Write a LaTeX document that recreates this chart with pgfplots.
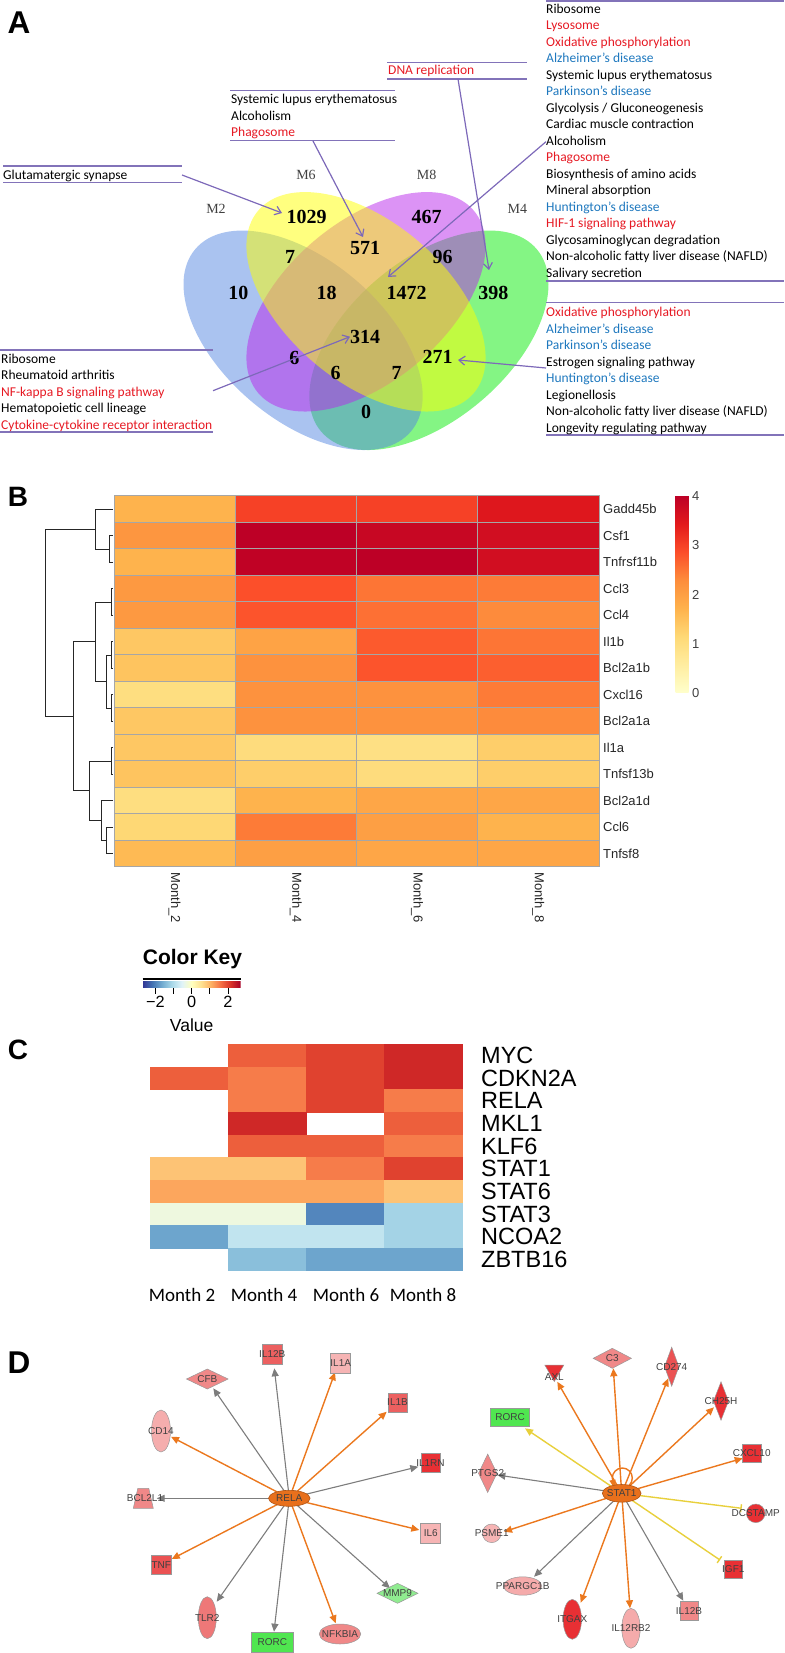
\documentclass[border=0pt]{standalone}
\usepackage{fontspec}
\setmainfont{Carlito}
\newfontfamily\arial{Liberation Sans}
\newfontfamily\tnr{Liberation Serif}
\usepackage{pgfplots}
\pgfplotsset{compat=1.18}
\usepackage{pgfplotstable}
\usetikzlibrary{arrows.meta,calc}

% colours
\definecolor{kred}{RGB}{230,25,35}
\definecolor{kblue}{RGB}{30,120,190}
\definecolor{sepc}{RGB}{130,115,185}
\definecolor{arrc}{RGB}{125,105,185}
\definecolor{vblue}{RGB}{85,135,225}
\definecolor{vyellow}{RGB}{255,255,0}
\definecolor{vpurple}{RGB}{185,40,235}
\definecolor{vgreen}{RGB}{10,235,10}
\definecolor{hub}{RGB}{232,112,28}
\definecolor{redS}{RGB}{232,48,52}
\definecolor{redM}{RGB}{236,96,96}
\definecolor{pinkM}{RGB}{240,136,136}
\definecolor{pinkL}{RGB}{246,180,180}
\definecolor{greenS}{RGB}{80,230,80}
\definecolor{greenL}{RGB}{144,236,144}
\definecolor{eorange}{RGB}{235,120,30}
\definecolor{egray}{RGB}{125,125,125}
\definecolor{eyellow}{RGB}{232,208,60}

\pgfdeclareplotmark{cellB}{\pgfpathrectangle{\pgfqpoint{-60.625pt}{-13.25pt}}{\pgfqpoint{121.25pt}{26.5pt}}\pgfusepathqfillstroke}
\pgfdeclareplotmark{cellC}{\pgfpathrectangle{\pgfqpoint{-39pt}{-11.32pt}}{\pgfqpoint{78pt}{22.64pt}}\pgfusepathqfillstroke}
\pgfdeclareplotmark{trap}{%
  \pgfpathmoveto{\pgfqpoint{-\pgfplotmarksize}{-\pgfplotmarksize}}%
  \pgfpathlineto{\pgfqpoint{\pgfplotmarksize}{-\pgfplotmarksize}}%
  \pgfpathlineto{\pgfqpoint{0.55\pgfplotmarksize}{\pgfplotmarksize}}%
  \pgfpathlineto{\pgfqpoint{-0.55\pgfplotmarksize}{\pgfplotmarksize}}%
  \pgfpathclose\pgfusepathqfillstroke}

\tikzset{
  eo/.style={draw=eorange, line width=1.4pt, -{Triangle[length=8pt,width=7pt]}},
  eg/.style={draw=egray, line width=1.1pt, -{Triangle[length=8pt,width=7pt]}},
  ey/.style={draw=eyellow, line width=1.4pt, -{Triangle[length=8pt,width=7pt]}},
  eyt/.style={draw=eyellow, line width=1.4pt, -{Bar[width=8pt]}},
  nd/.style={draw=black!40, line width=0.5pt},
  pa/.style={draw=arrc, line width=1.2pt, -{Straight Barb[length=6pt,width=9pt]}},
  sep/.style={draw=sepc, line width=1.2pt},
  dendro/.style={draw=black!85, line width=0.9pt},
}
\pgfplotsset{canvas/.style={
  at={(0pt,0pt)}, anchor=south west,
  width=784pt, height=1653pt, scale only axis,
  xmin=0, xmax=784, ymin=0, ymax=1653, y dir=reverse,
  hide axis, clip=false}}

\newcommand{\lfont}{\fontsize{13.5}{16.5}\selectfont}
\newcommand{\rd}[1]{\textcolor{kred}{#1}}
\newcommand{\bl}[1]{\textcolor{kblue}{#1}}
\newcommand{\vn}[3]{\node[font=\tnr\bfseries\fontsize{20}{24}\selectfont] at (axis cs:#1,#2) {#3};}
\newcommand{\vm}[3]{\node[font=\tnr\fontsize{14}{16}\selectfont, text=black!75] at (axis cs:#1,#2) {#3};}
\newcommand{\edge}[5]{\addplot[#1] coordinates {(#2,#3) (#4,#5)};}
\newcommand{\nm}[3]{\addplot[only marks, #3] coordinates {(#1,#2)};}
\newcommand{\nl}[3]{\node[font=\arial\fontsize{10}{12}\selectfont, text=black!75, inner sep=0pt] at (axis cs:#1,#2) {#3};}
\newcommand{\gb}[2]{\node[anchor=west, inner sep=0pt, font=\arial\fontsize{13}{15}\selectfont, text=black!85] at (axis cs:603,#1) {#2};}
\newcommand{\gc}[2]{\node[anchor=west, inner sep=0pt, font=\arial\fontsize{23.5}{26}\selectfont] at (axis cs:481,#1) {#2};}

% panel B: log fold change, x = month index, y = gene row
\pgfplotstableread{
x y v
0 0 1.7
1 0 3.0
2 0 3.0
3 0 3.5
0 1 2.15
1 1 4.0
2 1 3.85
3 1 3.7
0 2 1.7
1 2 3.95
2 2 4.0
3 2 3.7
0 3 2.1
1 3 2.85
2 3 2.5
3 3 2.45
0 4 2.1
1 4 2.8
2 4 2.55
3 4 2.3
0 5 1.4
1 5 1.95
2 5 2.75
3 5 2.5
0 6 1.45
1 6 2.2
2 6 2.8
3 6 2.7
0 7 1.0
1 7 2.2
2 7 2.2
3 7 2.45
0 8 1.4
1 8 2.2
2 8 2.2
3 8 2.3
0 9 1.4
1 9 1.05
2 9 0.95
3 9 1.3
0 10 1.45
1 10 1.3
2 10 1.05
3 10 1.3
0 11 1.0
1 11 1.7
2 11 1.9
3 11 1.9
0 12 1.15
1 12 2.45
2 12 2.0
3 12 1.7
0 13 1.6
1 13 2.0
2 13 1.9
3 13 1.9
}\heatB

% panel C: z-scores, missing cells omitted
\pgfplotstableread{
x y v
1 0 1.75
2 0 2.0
3 0 2.25
0 1 1.75
1 1 1.5
2 1 2.0
3 1 2.25
1 2 1.5
2 2 2.0
3 2 1.5
1 3 2.25
3 3 1.75
1 4 1.75
2 4 1.75
3 4 1.5
0 5 0.85
1 5 0.85
2 5 1.5
3 5 2.0
0 6 1.15
1 6 1.15
2 6 1.15
3 6 0.85
0 7 -0.3
1 7 -0.3
2 7 -2.0
3 7 -1.15
0 8 -1.7
1 8 -0.85
2 8 -0.85
3 8 -1.15
1 9 -1.4
2 9 -1.7
3 9 -1.7
}\heatC

\begin{document}
\begin{tikzpicture}

%================ canvas: Venn, lists, dendrogram, networks
\begin{axis}[canvas]
% --- A: Venn ellipses
\fill[vgreen, fill opacity=0.5, rotate around={40.2:(axis cs:428.9,340.3)}] (axis cs:428.9,340.3) ellipse [x radius=141.2pt, y radius=80pt];
\fill[vblue, fill opacity=0.5, rotate around={-40.2:(axis cs:303.1,340.3)}] (axis cs:303.1,340.3) ellipse [x radius=141.2pt, y radius=80pt];
\fill[vpurple, fill opacity=0.5, rotate around={40.2:(axis cs:366,301.8)}] (axis cs:366,301.8) ellipse [x radius=141.2pt, y radius=80pt];
\fill[vyellow, fill opacity=0.5, rotate around={-40.2:(axis cs:366,301.8)}] (axis cs:366,301.8) ellipse [x radius=141.2pt, y radius=80pt];

\vm{216}{209.3}{M2}
\vm{306}{175}{M6}
\vm{426.7}{175}{M8}
\vm{517.3}{209.3}{M4}

\vn{306.7}{216.7}{1029}
\vn{426.7}{216.7}{467}
\vn{290}{256.7}{7}
\vn{365}{248.3}{571}
\vn{442.7}{257.3}{96}
\vn{238.3}{293.3}{10}
\vn{326.7}{293.3}{18}
\vn{406.7}{293.3}{1472}
\vn{493.3}{293.3}{398}
\vn{365}{336.7}{314}
\vn{294.3}{358.3}{6}
\vn{437.7}{356.7}{271}
\vn{335.7}{373.3}{6}
\vn{396.7}{373.3}{7}
\vn{366}{411.7}{0}

% --- A: pathway lists
\addplot[sep] coordinates {(546,1) (784,1)};
\addplot[sep] coordinates {(546,281) (784,281)};
\node[anchor=base west, inner sep=0pt, font=\lfont] at (axis cs:546,13.5) {\begin{tabular}[t]{@{}l@{}}
Ribosome\\ \rd{Lysosome}\\ \rd{Oxidative phosphorylation}\\ \bl{Alzheimer's disease}\\
Systemic lupus erythematosus\\ \bl{Parkinson's disease}\\ Glycolysis / Gluconeogenesis\\
Cardiac muscle contraction\\ Alcoholism\\ \rd{Phagosome}\\ Biosynthesis of amino acids\\
Mineral absorption\\ \bl{Huntington's disease}\\ \rd{HIF-1 signaling pathway}\\
Glycosaminoglycan degradation\\ Non-alcoholic fatty liver disease (NAFLD)\\ Salivary secretion
\end{tabular}};

\addplot[sep] coordinates {(546,302.7) (784,302.7)};
\addplot[sep] coordinates {(546,435) (784,435)};
\node[anchor=base west, inner sep=0pt, font=\lfont] at (axis cs:546,316.5) {\begin{tabular}[t]{@{}l@{}}
\rd{Oxidative phosphorylation}\\ \bl{Alzheimer's disease}\\ \bl{Parkinson's disease}\\
Estrogen signaling pathway\\ \bl{Huntington's disease}\\ Legionellosis\\
Non-alcoholic fatty liver disease (NAFLD)\\ Longevity regulating pathway
\end{tabular}};

\addplot[sep] coordinates {(387,62.3) (527,62.3)};
\addplot[sep] coordinates {(387,79) (527,79)};
\node[anchor=base west, inner sep=0pt, font=\lfont, text=kred] at (axis cs:388,75) {DNA replication};

\addplot[sep] coordinates {(230,90.7) (395,90.7)};
\addplot[sep] coordinates {(230,140.7) (395,140.7)};
\node[anchor=base west, inner sep=0pt, font=\lfont] at (axis cs:231,104) {\begin{tabular}[t]{@{}l@{}}
Systemic lupus erythematosus\\ Alcoholism\\ \rd{Phagosome}
\end{tabular}};

\addplot[sep] coordinates {(3,166) (182,166)};
\addplot[sep] coordinates {(3,182.7) (182,182.7)};
\node[anchor=base west, inner sep=0pt, font=\lfont] at (axis cs:3,180) {Glutamatergic synapse};

\addplot[sep] coordinates {(0,350) (213,350)};
\addplot[sep] coordinates {(0,432) (213,432)};
\node[anchor=base west, inner sep=0pt, font=\lfont] at (axis cs:1,363) {\begin{tabular}[t]{@{}l@{}}
Ribosome\\ Rheumatoid arthritis\\ \rd{NF-kappa B signaling pathway}\\
Hematopoietic cell lineage\\ \rd{Cytokine-cytokine receptor interaction}
\end{tabular}};

% --- A: arrows
\addplot[pa] coordinates {(182,175) (282,213)};
\addplot[pa] coordinates {(313,141) (363,237)};
\addplot[pa] coordinates {(458,79) (489,270)};
\addplot[pa] coordinates {(546,141.7) (388,277)};
\addplot[pa] coordinates {(546,368) (458,360)};
\addplot[pa] coordinates {(213,390.7) (350,336.7)};

% --- panel letters
\node[font=\arial\bfseries\fontsize{31.5}{36}\selectfont] at (axis cs:19,23) {A};
\node[font=\arial\bfseries\fontsize{28}{32}\selectfont] at (axis cs:18,497) {B};
\node[font=\arial\bfseries\fontsize{28}{32}\selectfont] at (axis cs:18,1050) {C};
\node[font=\arial\bfseries\fontsize{31.5}{36}\selectfont] at (axis cs:19,1363) {D};

% --- B: dendrogram
\addplot[dendro] coordinates {(113,535.8) (109,535.8) (109,562.3) (113,562.3)};
\addplot[dendro] coordinates {(113,509.3) (95,509.3) (95,549) (109,549)};
\addplot[dendro] coordinates {(113,588.8) (111,588.8) (111,615.3) (113,615.3)};
\addplot[dendro] coordinates {(113,641.8) (111,641.8) (111,668.3) (113,668.3)};
\addplot[dendro] coordinates {(113,694.8) (111,694.8) (111,721.3) (113,721.3)};
\addplot[dendro] coordinates {(111,655) (106,655) (106,708) (111,708)};
\addplot[dendro] coordinates {(111,602) (95,602) (95,681.5) (106,681.5)};
\addplot[dendro] coordinates {(113,747.8) (111,747.8) (111,774.3) (113,774.3)};
\addplot[dendro] coordinates {(113,827.3) (106,827.3) (106,853.8) (113,853.8)};
\addplot[dendro] coordinates {(113,800.8) (101,800.8) (101,840.5) (106,840.5)};
\addplot[dendro] coordinates {(111,761) (89,761) (89,820.7) (101,820.7)};
\addplot[dendro] coordinates {(95,641.8) (73,641.8) (73,790.8) (89,790.8)};
\addplot[dendro] coordinates {(95,529.2) (45,529.2) (45,716.3) (73,716.3)};

% --- B: labels
\gb{509.3}{Gadd45b}
\gb{535.8}{Csf1}
\gb{562.3}{Tnfrsf11b}
\gb{588.8}{Ccl3}
\gb{615.3}{Ccl4}
\gb{641.8}{Il1b}
\gb{668.3}{Bcl2a1b}
\gb{694.8}{Cxcl16}
\gb{721.3}{Bcl2a1a}
\gb{747.8}{Il1a}
\gb{774.3}{Tnfsf13b}
\gb{800.8}{Bcl2a1d}
\gb{827.3}{Ccl6}
\gb{853.8}{Tnfsf8}
\node[rotate=-90, anchor=west, inner sep=0pt, font=\arial\fontsize{13}{15}\selectfont, text=black!85] at (axis cs:174.6,872) {Month\_2};
\node[rotate=-90, anchor=west, inner sep=0pt, font=\arial\fontsize{13}{15}\selectfont, text=black!85] at (axis cs:295.9,872) {Month\_4};
\node[rotate=-90, anchor=west, inner sep=0pt, font=\arial\fontsize{13}{15}\selectfont, text=black!85] at (axis cs:417.1,872) {Month\_6};
\node[rotate=-90, anchor=west, inner sep=0pt, font=\arial\fontsize{13}{15}\selectfont, text=black!85] at (axis cs:538.4,872) {Month\_8};

% --- C: colour key texts and labels
\node[anchor=base west, inner sep=0pt, font=\arial\bfseries\fontsize{21}{24}\selectfont] at (axis cs:142.7,964) {Color Key};
\addplot[black, line width=1.3pt] coordinates {(142.7,979) (240.7,979)};
\node[anchor=base, inner sep=0pt, font=\arial\fontsize{16.3}{18}\selectfont] at (axis cs:155.4,1007.5) {−2};
\node[anchor=base, inner sep=0pt, font=\arial\fontsize{16.3}{18}\selectfont] at (axis cs:191.7,1007.5) {0};
\node[anchor=base, inner sep=0pt, font=\arial\fontsize{16.3}{18}\selectfont] at (axis cs:228,1007.5) {2};
\node[anchor=base, inner sep=0pt, font=\arial\fontsize{17.5}{20}\selectfont] at (axis cs:191.7,1031.7) {Value};
\gc{1055.6}{MYC}
\gc{1078.3}{CDKN2A}
\gc{1100.9}{RELA}
\gc{1123.5}{MKL1}
\gc{1146.2}{KLF6}
\gc{1168.8}{STAT1}
\gc{1191.5}{STAT6}
\gc{1214.1}{STAT3}
\gc{1236.7}{NCOA2}
\gc{1259.4}{ZBTB16}
\node[anchor=base, inner sep=0pt, font=\fontsize{19}{22}\selectfont] at (axis cs:182,1301) {Month 2};
\node[anchor=base, inner sep=0pt, font=\fontsize{19}{22}\selectfont] at (axis cs:264,1301) {Month 4};
\node[anchor=base, inner sep=0pt, font=\fontsize{19}{22}\selectfont] at (axis cs:346,1301) {Month 6};
\node[anchor=base, inner sep=0pt, font=\fontsize{19}{22}\selectfont] at (axis cs:423,1301) {Month 8};

% --- D: RELA network edges
\edge{eg}{289.3}{1498.3}{274.3}{1368.3}
\edge{eo}{289.3}{1498.3}{335}{1372.3}
\edge{eg}{289.3}{1498.3}{213.3}{1388.3}
\edge{eo}{289.3}{1498.3}{386.7}{1411.7}
\edge{eo}{289.3}{1498.3}{171}{1436.7}
\edge{eg}{289.3}{1498.3}{418.3}{1466.7}
\edge{eg}{289.3}{1498.3}{156.7}{1498.3}
\edge{eo}{289.3}{1498.3}{419.3}{1530}
\edge{eo}{289.3}{1498.3}{171.7}{1559}
\edge{eg}{289.3}{1498.3}{216.7}{1601.7}
\edge{eg}{289.3}{1498.3}{274}{1631.7}
\edge{eo}{289.3}{1498.3}{335.7}{1623.3}
\edge{eg}{289.3}{1498.3}{390}{1588.3}
% --- D: STAT1 network edges
\edge{eo}{621.7}{1493.3}{613.3}{1368.3}
\edge{eo}{621.7}{1493.3}{557.3}{1381.7}
\edge{eo}{621.7}{1493.3}{668.3}{1378.3}
\edge{eo}{621.7}{1493.3}{714}{1407.3}
\edge{ey}{621.7}{1493.3}{525}{1428.3}
\edge{eo}{621.7}{1493.3}{742.7}{1458.3}
\edge{eg}{621.7}{1493.3}{497.3}{1475}
\edge{eyt}{621.7}{1493.3}{741.7}{1508.3}
\edge{eo}{621.7}{1493.3}{504}{1531.7}
\edge{eyt}{621.7}{1493.3}{720}{1560}
\edge{eg}{621.7}{1493.3}{534}{1576.7}
\edge{eo}{621.7}{1493.3}{580.7}{1602.7}
\edge{eo}{621.7}{1493.3}{630}{1608.3}
\edge{eg}{621.7}{1493.3}{683.3}{1600.7}
\draw[eorange, line width=1.4pt] (axis cs:622.3,1478) circle (10pt);
\addplot[eorange, line width=1.4pt, -{Triangle[length=7pt,width=6pt]}] coordinates {(612.6,1480.5) (613.5,1487)};

% --- D: RELA network nodes
\nm{272.3}{1354.3}{mark=square*, mark size=9.7pt, mark options={nd, fill=redM}}
\nm{340.7}{1363.3}{mark=square*, mark size=10pt, mark options={nd, fill=pinkL}}
\nm{207.3}{1379}{mark=diamond*, mark size=10pt, mark options={nd, fill=pinkM, xscale=2.78}}
\nm{161}{1431}{mark=*, mark size=9.5pt, mark options={nd, fill=pinkL!85!pinkM, yscale=2.21}}
\nm{397.5}{1402.5}{mark=square*, mark size=9.7pt, mark options={nd, fill=redM}}
\nm{430.5}{1463}{mark=square*, mark size=9.7pt, mark options={nd, fill=redS}}
\nm{143.3}{1498.3}{mark=trap, mark size=10pt, mark options={nd, fill=pinkM}}
\nm{430.7}{1533}{mark=square*, mark size=10pt, mark options={nd, fill=pinkL}}
\nm{161.3}{1565}{mark=square*, mark size=9.7pt, mark options={nd, fill=redM!70!redS}}
\nm{397.5}{1593.3}{mark=diamond*, mark size=10pt, mark options={nd, fill=greenL, xscale=2.73}}
\nm{207.3}{1617.7}{mark=*, mark size=9pt, mark options={nd, fill=pinkM!60!redM, yscale=2.33}}
\nm{340}{1634}{mark=*, mark size=10pt, mark options={nd, fill=pinkM, xscale=2.08}}
\nm{272.3}{1642.3}{mark=square*, mark size=10pt, mark options={nd, fill=greenS, xscale=2.13}}
\nm{289.3}{1498.3}{mark=*, mark size=8pt, mark options={draw=hub!75!black, line width=0.6pt, fill=hub, xscale=2.6}}

% --- D: STAT1 network nodes
\nm{612.3}{1358.3}{mark=diamond*, mark size=10pt, mark options={nd, fill=pinkM, xscale=2.55}}
\nm{554.3}{1370.5}{mark=triangle*, mark size=11pt, mark options={nd, fill=redS, rotate=180}}
\nm{671.7}{1366.7}{mark=diamond*, mark size=19.5pt, mark options={nd, fill=redM!70!redS, xscale=0.49}}
\nm{721}{1401}{mark=diamond*, mark size=19.2pt, mark options={nd, fill=redS, xscale=0.52}}
\nm{510}{1417.3}{mark=square*, mark size=9.2pt, mark options={nd, fill=greenS, xscale=2.14}}
\nm{751.7}{1453.3}{mark=square*, mark size=9.2pt, mark options={nd, fill=redS}}
\nm{487.7}{1473.3}{mark=diamond*, mark size=19.2pt, mark options={nd, fill=pinkM, xscale=0.64}}
\nm{755.7}{1513.3}{mark=*, mark size=9.3pt, mark options={nd, fill=redS}}
\nm{491.7}{1533.3}{mark=*, mark size=9.3pt, mark options={nd, fill=pinkL}}
\nm{733.3}{1569.3}{mark=square*, mark size=9.2pt, mark options={nd, fill=redS}}
\nm{522.7}{1586}{mark=*, mark size=9.2pt, mark options={nd, fill=pinkL!80!pinkM, xscale=2.08}}
\nm{572.3}{1619.3}{mark=*, mark size=9.2pt, mark options={nd, fill=redS, yscale=2.17}}
\nm{631}{1628.3}{mark=*, mark size=9.2pt, mark options={nd, fill=pinkL!80!pinkM, yscale=2.17}}
\nm{689}{1610.7}{mark=square*, mark size=9.2pt, mark options={nd, fill=pinkM}}
\nm{621.7}{1493.3}{mark=*, mark size=8.8pt, mark options={draw=hub!75!black, line width=0.6pt, fill=hub, xscale=2.2}}
\end{axis}

%================ overlay canvas: network labels on top of the node marks
\begin{axis}[canvas]
\nl{272.3}{1354.3}{IL12B}
\nl{340.7}{1363.3}{IL1A}
\nl{207.3}{1379}{CFB}
\nl{161}{1431}{CD14}
\nl{397.5}{1402.5}{IL1B}
\nl{430.5}{1463}{IL1RN}
\nl{145}{1498.3}{BCL2L1}
\nl{430.7}{1533}{IL6}
\nl{161.3}{1565}{TNF}
\nl{397.5}{1593.3}{MMP9}
\nl{207.3}{1617.7}{TLR2}
\nl{340}{1634}{NFKBIA}
\nl{272.3}{1642.3}{RORC}
\nl{289.3}{1498.3}{RELA}
\nl{612.3}{1358.3}{C3}
\nl{554.3}{1376.7}{AXL}
\nl{671.7}{1367.3}{CD274}
\nl{721}{1401}{CH25H}
\nl{510}{1417.3}{RORC}
\nl{751.7}{1453.3}{CXCL10}
\nl{487.7}{1473.3}{PTGS2}
\nl{755.7}{1513.3}{DCSTAMP}
\nl{491.7}{1533.3}{PSME1}
\nl{733.3}{1569.3}{IGF1}
\nl{522.7}{1586}{PPARGC1B}
\nl{572.3}{1619.3}{ITGAX}
\nl{631}{1628.3}{IL12RB2}
\nl{689}{1610.7}{IL12B}
\nl{621.7}{1493.3}{STAT1}
\end{axis}

%================ B: heatmap with its colour bar
\begin{axis}[
  at={(114pt,1157pt)}, anchor=north west,
  width=485pt, height=371pt, scale only axis,
  xmin=-0.5, xmax=3.5, ymin=-0.5, ymax=13.5, y dir=reverse,
  xtick=\empty, ytick=\empty, axis line style={draw=none}, clip=false,
  colormap={ylorrd}{rgb255=(255,255,204) rgb255=(255,237,160) rgb255=(254,217,118) rgb255=(254,178,76) rgb255=(253,141,60) rgb255=(252,78,42) rgb255=(227,26,28) rgb255=(189,0,38)},
  point meta min=0, point meta max=4,
  colorbar,
  colorbar style={
    at={($(parent axis.north east)+(68pt,0pt)$)}, anchor=north west,
    width=13pt, height=197pt, scale only axis,
    ytick={0,1,2,3,4}, yticklabels={0,1,2,3,4}, xtick=\empty,
    axis line style={draw=none}, tick style={draw=none},
    yticklabel style={font=\arial\fontsize{13}{15}\selectfont, text=black!75},
  },
]
\addplot[scatter, only marks, mark=cellB, point meta=explicit,
  scatter/use mapped color={draw=black!35, fill=mapped color},
  mark options={line width=1pt}] table[x=x, y=y, meta=v] {\heatB};
\end{axis}

%================ C: heatmap with its colour key
\begin{axis}[
  at={(150pt,608.7pt)}, anchor=north west,
  width=312pt, height=226.4pt, scale only axis,
  xmin=-0.5, xmax=3.5, ymin=-0.5, ymax=9.5, y dir=reverse,
  xtick=\empty, ytick=\empty, axis line style={draw=none}, clip=false,
  colormap={rdylbu}{rgb255=(49,54,149) rgb255=(69,117,180) rgb255=(116,173,209) rgb255=(171,217,233) rgb255=(224,243,248) rgb255=(255,255,191) rgb255=(254,224,144) rgb255=(253,174,97) rgb255=(244,109,67) rgb255=(215,48,39) rgb255=(165,0,38)},
  point meta min=-2.7, point meta max=2.7,
  colorbar horizontal,
  colorbar style={
    at={($(parent axis.north west)+(-7.3pt,71pt)$)}, anchor=north west,
    width=98pt, height=5.7pt, scale only axis,
    xtick={-2,-1,0,1,2}, xticklabels={,,,,}, ytick=\empty,
    tick align=outside, major tick length=6pt, xtick pos=left,
    axis line style={draw=none}, tick style={black, line width=0.9pt},
  },
]
\addplot[scatter, only marks, mark=cellC, point meta=explicit,
  scatter/use mapped color={draw=mapped color, fill=mapped color},
  mark options={line width=0.4pt}] table[x=x, y=y, meta=v] {\heatC};
\end{axis}

\pgfresetboundingbox
\path (0pt,0pt) rectangle (784pt,1653pt);
\end{tikzpicture}
\end{document}
